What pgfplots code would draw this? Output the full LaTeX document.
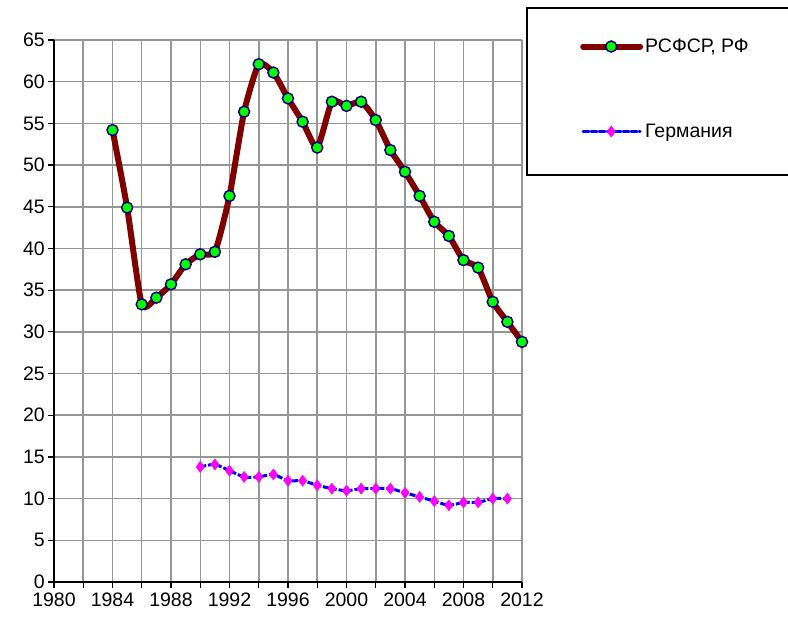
\documentclass[border=0pt]{standalone}
\usepackage{pgfplots}
\pgfplotsset{compat=1.18}
\usepackage{fontspec}
\setmainfont{Liberation Sans}
\definecolor{rusline}{HTML}{800000}
\definecolor{rusmark}{HTML}{00FF00}
\definecolor{rusedge}{HTML}{000080}
\definecolor{gerline}{HTML}{0000FF}
\definecolor{germark}{HTML}{FF00FF}
\definecolor{gridc}{HTML}{969696}
\begin{document}
\begin{tikzpicture}
\begin{axis}[
  at={(0pt,0pt)}, anchor=south west,
  scale only axis, width=468pt, height=542pt,
  xmin=1980, xmax=2012, ymin=0, ymax=65,
  xtick={1980,1982,...,2012},
  xticklabels={1980,,1984,,1988,,1992,,1996,,2000,,2004,,2008,,2012},
  ytick={0,5,...,65},
  /pgf/number format/assume math mode=true,
  /pgf/number format/1000 sep={},
  ticklabel style={font=\fontsize{19.5}{22}\selectfont, inner sep=1pt},
  xticklabel style={yshift=-4pt},
  yticklabel style={xshift=-2pt},
  grid=major,
  major grid style={gridc, line width=1.5pt},
  axis line style={line width=1.5pt},
  axis x line*=bottom, axis y line*=left,
  tick style={black, line width=1.2pt},
  tick align=outside, major tick length=6pt,
  clip=false,
  legend style={draw=none, fill=none, at={(1.1239,1.006)}, anchor=north west,
    font=\fontsize{19.5}{22}\selectfont, row sep=66pt, inner sep=0pt,
    nodes={inner sep=2pt, anchor=west}},
  legend cell align=left,
  legend image code/.code={\draw[#1, mark repeat=2, mark phase=2, line cap=round] plot coordinates {(0pt,0pt) (28pt,0pt) (57pt,0pt)};},
]
\addplot[rusline, line width=6pt, smooth, tension=0.35, mark=*, mark size=5.5pt,
  mark options={fill=rusmark, draw=rusedge, line width=1.5pt, solid}]
  coordinates {
  (1984,54.2) (1985,44.9) (1986,33.3) (1987,34.1) (1988,35.7) (1989,38.1)
  (1990,39.3) (1991,39.6) (1992,46.3) (1993,56.4) (1994,62.1) (1995,61.1)
  (1996,58.0) (1997,55.2) (1998,52.1) (1999,57.6) (2000,57.1) (2001,57.6)
  (2002,55.4) (2003,51.8) (2004,49.2) (2005,46.3) (2006,43.2) (2007,41.5)
  (2008,38.6) (2009,37.7) (2010,33.6) (2011,31.2) (2012,28.8)
  };
\addlegendentry{РСФСР, РФ}
\addplot[gerline, line width=3pt, dash pattern=on 6pt off 2pt, smooth, tension=0.4,
  mark=diamond*, mark size=5.5pt,
  mark options={fill=germark, draw=germark, line width=0.5pt, solid}]
  coordinates {
  (1990,13.8) (1991,14.1) (1992,13.35) (1993,12.6) (1994,12.6) (1995,12.9)
  (1996,12.15) (1997,12.15) (1998,11.6) (1999,11.2) (2000,10.95) (2001,11.2)
  (2002,11.2) (2003,11.2) (2004,10.7) (2005,10.2) (2006,9.7) (2007,9.2)
  (2008,9.55) (2009,9.55) (2010,10.0) (2011,10.0)
  };
\addlegendentry{Германия}
\end{axis}
\draw[line width=2pt] (473pt,407pt) rectangle (760pt,574pt);
\pgfresetboundingbox
\path (-54pt,-37pt) rectangle (734pt,582pt);
\end{tikzpicture}
\end{document}
